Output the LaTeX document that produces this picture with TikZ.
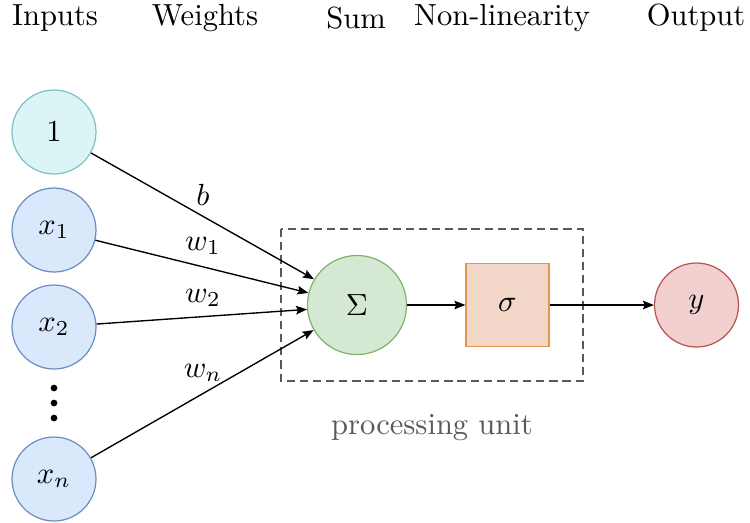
\documentclass[tikz,border=0pt]{standalone}
\usepackage{amsmath}
\usepackage{amssymb}
\usepackage{xcolor}
\usetikzlibrary{arrows.meta}

\definecolor{biasfill}{HTML}{DBF5F7}
\definecolor{biasdraw}{HTML}{7CC3C8}
\definecolor{infill}{HTML}{DAE8FC}
\definecolor{indraw}{HTML}{6C8EBF}
\definecolor{sumfill}{HTML}{D5E8D4}
\definecolor{sumdraw}{HTML}{82B366}
\definecolor{actfill}{HTML}{F2D6C8}
\definecolor{actdraw}{HTML}{E3964F}
\definecolor{outfill}{HTML}{F2D0D0}
\definecolor{outdraw}{HTML}{B85450}

\begin{document}
\begin{tikzpicture}[x=0.0115cm,y=-0.0115cm,>={Stealth[length=3.6pt,width=2.8pt,inset=0.6pt]},
  unit/.style={circle,draw,inner sep=1pt,minimum size=0.966cm},
  wire/.style={->,line width=0.45pt},
  head/.style={inner sep=1pt}]
  \useasboundingbox (0,0) rectangle (750,522);
  % column titles
  \node[head] (tin) at (55,18) {Inputs};
  \node[head] (tw) at (205,18) {Weights};
  \node[head] (ts) at (356,18) {Sum};
  \node[head] (tn) at (502,18) {Non-linearity};
  \node[head] (to) at (696,18) {Output};
  % inputs
  \node[unit,fill=biasfill,draw=biasdraw] (one) at (54,132) {$1$};
  \node[unit,fill=infill,draw=indraw] (x1) at (54,230) {$x_1$};
  \node[unit,fill=infill,draw=indraw] (x2) at (54,327) {$x_2$};
  \node[unit,fill=infill,draw=indraw] (xn) at (54,479) {$x_n$};
  \foreach \yy in {388,403,418}
    \fill (54,\yy) circle (1.1pt);
  % processing unit
  \draw[black!65,dash pattern=on 2.7pt off 1.6pt] (281,229) rectangle (583,381);
  \node[circle,draw=sumdraw,fill=sumfill,minimum size=1.14cm] (sum) at (357,305) {$\Sigma$};
  \node[draw=actdraw,fill=actfill,minimum size=0.955cm] (act) at (507.5,305) {$\sigma$};
  \node[unit,fill=outfill,draw=outdraw] (y) at (696.5,305) {$y$};
  \node[text=black!65] (pu) at (432,428) {processing unit};
  % weights
  \node (lb) at (203,195) {$b$};
  \node (lw1) at (203,246) {$w_1$};
  \node (lw2) at (203,298) {$w_2$};
  \node (lwn) at (203,373) {$w_n$};
  \draw[wire] (one) -- (sum.149);
  \draw[wire] (x1) -- (sum.166);
  \draw[wire] (x2) -- (sum.185);
  \draw[wire] (xn) -- (sum.210);
  \draw[wire] (sum) -- (act);
  \draw[wire] (act) -- (y);
\end{tikzpicture}
\end{document}
